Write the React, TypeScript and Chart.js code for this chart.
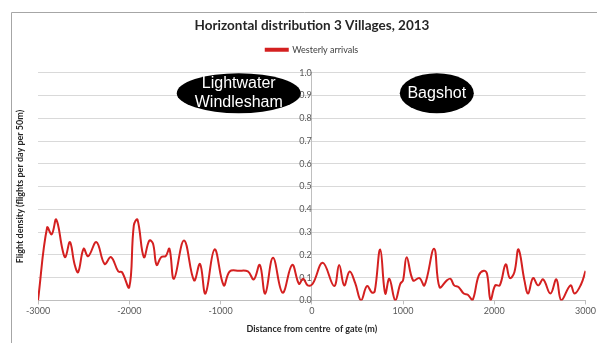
import React, { useEffect, useRef } from "react";
import { Chart, registerables } from "chart.js";

Chart.register(...registerables);

const titleText = "Horizontal distribution 3 Villages, 2013";
const seriesLabel = "Westerly arrivals";
const xTitle = "Distance from centre  of gate (m)";
const yTitle = "Flight density (flights per day per 50m)";

const distances = [
  -3000, -2900, -2850, -2800, -2730, -2700, -2650, -2600, -2560, -2500,
  -2450, -2360, -2270, -2200, -2120, -2080, -2000, -1950, -1910, -1840,
  -1780, -1740, -1700, -1650, -1600, -1560, -1510, -1400, -1290, -1225,
  -1165, -1065, -965, -900, -800, -700, -635, -570, -510, -425,
  -320, -215, -140, -95, -45, 10, 120, 245, 300, 355,
  415, 475, 540, 605, 660, 690, 750, 805, 850, 915,
  970, 1000, 1040, 1110, 1180, 1235, 1340, 1400, 1480, 1520,
  1560, 1610, 1665, 1710, 1760, 1830, 1885, 1920, 1960, 2010,
  2060, 2125, 2170, 2220, 2265, 2330, 2370, 2425, 2480, 2535,
  2615, 2680, 2735, 2835, 2880, 2950, 3000,
];

const densities = [
  0.0, 0.32, 0.29, 0.355, 0.22, 0.19, 0.256, 0.16, 0.124, 0.227,
  0.194, 0.256, 0.16, 0.19, 0.127, 0.124, 0.058, 0.33, 0.355, 0.19,
  0.263, 0.25, 0.156, 0.19, 0.195, 0.227, 0.095, 0.263, 0.088, 0.16,
  0.03, 0.224, 0.066, 0.127, 0.13, 0.127, 0.092, 0.156, 0.03, 0.187,
  0.034, 0.156, 0.073, 0.095, 0.066, 0.073, 0.165, 0.063, 0.156, 0.066,
  0.127, 0.077, 0.0, 0.063, 0.034, 0.04, 0.224, 0.03, 0.095, 0.0,
  0.073, 0.088, 0.19, 0.088, 0.098, 0.066, 0.227, 0.058, 0.088, 0.095,
  0.066, 0.058, 0.03, 0.025, 0.0, 0.11, 0.13, 0.117, 0.0, 0.066,
  0.066, 0.158, 0.098, 0.124, 0.224, 0.088, 0.03, 0.098, 0.066, 0.092,
  0.03, 0.092, 0.0, 0.066, 0.03, 0.07, 0.13,
];

const villageNames = [["Lightwater", "Windlesham"], ["Bagshot"]];
const villageX = [-800, 1370];
const villageY = [0.91, 0.91];

const CALIBRI = "Lato, 'Liberation Sans', sans-serif";

const framePlugin = {
  id: "frame",
  beforeDraw(chart: any) {
    const { ctx, width, height } = chart;
    ctx.save();
    ctx.fillStyle = "#ffffff";
    ctx.fillRect(0, 0, width, height);
    ctx.strokeStyle = "#a6a6a6";
    ctx.lineWidth = 1;
    ctx.beginPath();
    ctx.moveTo(11.5, height);
    ctx.lineTo(11.5, 12.5);
    ctx.lineTo(width, 12.5);
    ctx.stroke();
    ctx.restore();
  },
};

const calloutPlugin = {
  id: "callouts",
  afterDraw(chart: any) {
    const { ctx } = chart;
    const xs = chart.scales.x;
    const ys = chart.scales.y;
    villageNames.forEach((lines, i) => {
      const cx = xs.getPixelForValue(villageX[i]);
      const cy = ys.getPixelForValue(villageY[i]);
      const rx = lines.length > 1 ? 62 : 37;
      const ry = 20;
      ctx.save();
      ctx.fillStyle = "#000000";
      ctx.beginPath();
      ctx.ellipse(cx, cy, rx, ry, 0, 0, Math.PI * 2);
      ctx.fill();
      ctx.fillStyle = "#ffffff";
      ctx.font = "16px 'Liberation Sans', Arial, sans-serif";
      ctx.textAlign = "center";
      ctx.textBaseline = "middle";
      const lh = 19;
      const start = cy - ((lines.length - 1) * lh) / 2;
      lines.forEach((t, j) => ctx.fillText(t, cx, start + j * lh));
      ctx.restore();
    });
  },
};

export default function App() {
  const ref = useRef<HTMLCanvasElement | null>(null);
  useEffect(() => {
    if (!ref.current) return;
    const chart = new Chart(ref.current, {
      type: "line",
      data: {
        datasets: [
          {
            label: seriesLabel,
            data: distances.map((d, i) => ({ x: d, y: densities[i] })),
            borderColor: "#d42020",
            backgroundColor: "#d42020",
            borderWidth: 2,
            pointRadius: 0,
            tension: 0.4,
            fill: false,
          },
        ],
      },
      options: {
        responsive: false,
        animation: false,
        layout: { padding: { left: 29, right: 2, top: 0, bottom: 9 } },
        plugins: {
          title: {
            display: true,
            text: titleText,
            color: "#262626",
            font: { family: CALIBRI, size: 13.5, weight: "bold" },
            padding: { top: 18, bottom: 5 },
          },
          legend: {
            display: true,
            position: "top",
            labels: {
              color: "#404040",
              font: { family: CALIBRI, size: 9 },
              boxWidth: 22,
              boxHeight: 2,
              padding: 6,
            },
          },
          tooltip: { enabled: false },
        },
        scales: {
          x: {
            type: "linear",
            position: "bottom",
            min: -3000,
            max: 3000,
            ticks: {
              stepSize: 1000,
              color: "#595959",
              font: { family: CALIBRI, size: 9 },
              padding: 1,
              maxRotation: 0,
              callback: (v: any) => String(v),
            },
            grid: {
              drawOnChartArea: false,
              tickLength: 4,
              color: "#bfbfbf",
            },
            border: { color: "#bfbfbf" },
            title: {
              display: true,
              text: xTitle,
              color: "#262626",
              font: { family: CALIBRI, size: 9, weight: "bold" },
              padding: { top: 6, bottom: 0 },
            },
          },
          xSpacer: {
            type: "linear",
            position: "top",
            display: true,
            ticks: { display: false },
            grid: { display: false },
            border: { display: false },
            afterFit: (scale: any) => {
              scale.height = 8.5;
            },
          },
          y: {
            type: "linear",
            position: { x: 0 },
            min: 0,
            max: 1,
            ticks: {
              stepSize: 0.1,
              color: "#595959",
              font: { family: CALIBRI, size: 9 },
              padding: 5,
              callback: (v: any) => Number(v).toFixed(1),
            },
            grid: { color: "#d9d9d9", drawTicks: false },
            border: { color: "#bfbfbf" },
          },
          yTitle: {
            type: "linear",
            position: "left",
            min: 0,
            max: 1,
            ticks: { display: false },
            grid: { display: false },
            border: { display: false },
            title: {
              display: true,
              text: yTitle,
              color: "#262626",
              font: { family: CALIBRI, size: 9, weight: "bold" },
              padding: { top: -14.4, bottom: 0 },
            },
            afterFit: (scale: any) => {
              scale.width = 9;
            },
          },
        },
      },
      plugins: [framePlugin, calloutPlugin],
    });
    return () => chart.destroy();
  }, []);
  return (
    <div style={{ position: "absolute", left: 0, top: 0, width: 597, height: 343 }}>
      <canvas ref={ref} width={597} height={343} style={{ display: "block" }} />
    </div>
  );
}
